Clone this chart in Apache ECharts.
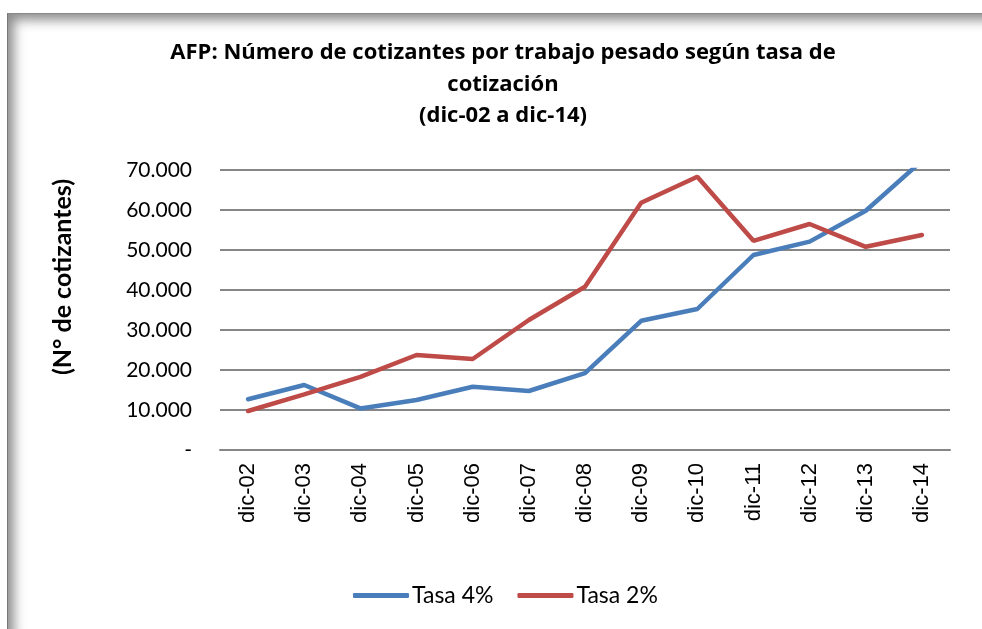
<!DOCTYPE html>
<html>
<head>
<meta charset="utf-8">
<script src="https://cdn.jsdelivr.net/npm/echarts@6/dist/echarts.min.js"></script>
<style>
  html, body { margin: 0; padding: 0; background: #fff; }
  #frame {
    position: absolute; left: 7px; top: 13px; width: 975px; height: 616px;
    border-left: 1px solid #777; border-top: 1px solid #888;
    box-shadow: inset 9px 9px 12px -3px rgba(0,0,0,0.45);
  }
  #main { position: absolute; left: 0; top: 0; width: 982px; height: 629px; }
</style>
</head>
<body>
<div id="frame"></div>
<div id="main"></div>
<script>
  // datos
  var categorias = ['dic-02','dic-03','dic-04','dic-05','dic-06','dic-07','dic-08','dic-09','dic-10','dic-11','dic-12','dic-13','dic-14'];
  var tasa4 = [12700, 16250, 10400, 12500, 15800, 14750, 19200, 32300, 35250, 48750, 52100, 59800, 72300];
  var tasa2 = [9750, 13900, 18300, 23750, 22750, 32500, 40800, 61800, 68300, 52300, 56500, 50800, 53750];

  var myChart = echarts.init(document.getElementById('main'));

  var option = {
    backgroundColor: 'transparent',
    animation: false,
    title: {
      text: 'AFP: Número de cotizantes por trabajo pesado según tasa de\ncotización\n(dic-02 a dic-14)',
      left: 503,
      textAlign: 'center',
      top: 37,
      padding: 0,
      textStyle: {
        fontFamily: 'Open Sans', fontWeight: 'bold', fontSize: 22, color: '#000', lineHeight: 31.5
      }
    },
    grid: { left: 220, right: 32, top: 170, bottom: 179 },
    legend: {
      bottom: 22,
      left: 353,
      padding: 0,
      itemWidth: 56,
      itemHeight: 5,
      itemGap: 24,
      icon: 'roundRect',
      textStyle: { fontFamily: 'Lato', fontSize: 23, color: '#000', padding: [0, 0, 0, -2] },
      data: ['Tasa 4%', 'Tasa 2%']
    },
    xAxis: {
      type: 'category',
      data: categorias,
      axisLine: { lineStyle: { color: '#868686', width: 2 } },
      axisTick: { show: false },
      axisLabel: {
        rotate: 90, margin: 13, fontFamily: 'Liberation Sans', fontSize: 22, color: '#000'
      }
    },
    yAxis: {
      type: 'value',
      min: 0, max: 70000, interval: 10000,
      axisLine: { show: false },
      axisTick: { show: false },
      splitLine: { lineStyle: { color: '#868686', width: 2 } },
      axisLabel: {
        margin: 28, fontFamily: 'Lato', fontSize: 21, color: '#000',
        formatter: function (v) {
          if (v === 0) return '-';
          return String(v).replace(/\B(?=(\d{3})+(?!\d))/g, '.');
        }
      }
    },
    graphic: [{
      type: 'text',
      x: 63, y: 277,
      rotation: Math.PI / 2,
      style: {
        text: '(N° de cotizantes)',
        font: 'bold 25px Lato',
        fill: '#000',
        align: 'center',
        verticalAlign: 'middle'
      }
    }],
    series: [
      {
        name: 'Tasa 4%', type: 'line', data: tasa4, symbol: 'none',
        color: '#4A7EBB', lineStyle: { width: 4.5, color: '#4A7EBB', cap: 'round' }
      },
      {
        name: 'Tasa 2%', type: 'line', data: tasa2, symbol: 'none',
        color: '#BE4B48', lineStyle: { width: 4.5, color: '#BE4B48', cap: 'round' }
      }
    ]
  };
  myChart.setOption(option);
</script>
</body>
</html>
